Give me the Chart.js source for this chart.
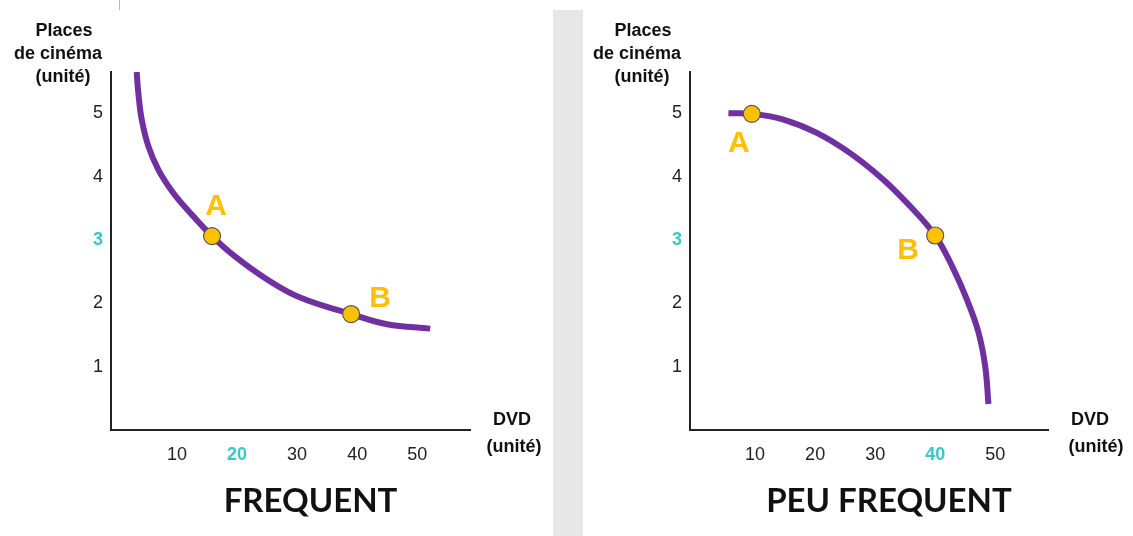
<!DOCTYPE html>
<html>
<head>
<meta charset="utf-8">
<script src="https://cdn.jsdelivr.net/npm/chart.js@4.4.0/dist/chart.umd.min.js"></script>
<style>
  body { margin: 0; background: #fff; }
  #wrap { position: relative; width: 1133px; height: 536px; overflow: hidden; }
  #sep { position: absolute; left: 553px; top: 10px; width: 30px; height: 526px; background: #e7e7e7; }
  #mark { position: absolute; left: 119px; top: 0; width: 1px; height: 10px; background: #aab4e6; }
  #c1 { position: absolute; left: 0; top: 0; }
  #c2 { position: absolute; left: 583px; top: 0; }
</style>
</head>
<body>
<div id="wrap">
  <div id="sep"></div>
  <div id="mark"></div>
  <canvas id="c1" width="553" height="536"></canvas>
  <canvas id="c2" width="550" height="536"></canvas>
</div>
<script>
// ticks shown on the axes
var dvdTicks = [10, 20, 30, 40, 50];
var placeTicks = [1, 2, 3, 4, 5];

// left chart: FREQUENT
var freqX = [3.28, 3.55, 4.12, 5.22, 6.88, 9.38, 12.17, 15.83, 19.38, 24.95, 30.5, 39.0, 44.95, 52.17];
var freqY = [5.65, 5.32, 4.90, 4.48, 4.11, 3.74, 3.43, 3.06, 2.76, 2.38, 2.09, 1.83, 1.67, 1.60];
var freqPointX = [15.83, 39.0];
var freqPointY = [3.06, 1.83];

// right chart: PEU FREQUENT
var rareX = [5.55, 9.45, 14.72, 20.28, 25.83, 31.38, 35.83, 40.0, 43.05, 45.28, 47.22, 48.33, 48.88];
var rareY = [5.00, 4.99, 4.90, 4.69, 4.37, 3.95, 3.53, 3.07, 2.54, 2.06, 1.54, 1.01, 0.41];
var rarePointX = [9.45, 40.0];
var rarePointY = [4.99, 3.07];

var pointNames = ['A', 'B'];

var purple = '#7030a0';
var yellow = '#ffc000';
var teal = '#36c8c8';
var tickFamily = 'Liberation Sans, Arial, sans-serif';

function toXY(xs, ys) {
    var out = [];
    for (var i = 0; i < xs.length; i++) out.push({ x: xs[i], y: ys[i] });
    return out;
}

// draws the axis titles, the big title under the chart and the A / B labels
var extraText = {
    id: 'extraText',
    afterDraw: function (chart, args, opts) {
        var ctx = chart.ctx;
        var area = chart.chartArea;
        ctx.save();
        ctx.fillStyle = '#111';
        ctx.font = 'bold 18px ' + tickFamily;
        ctx.textBaseline = 'middle';
        ctx.textAlign = 'center';
        ctx.fillText('Places', area.left - 47, area.top - 41);
        ctx.fillText('de cinéma', area.left - 53, area.top - 18);
        ctx.fillText('(unité)', area.left - 48, area.top + 5);
        ctx.fillText('DVD', area.right + opts.dvdShift[0], area.bottom - 10);
        ctx.fillText('(unité)', area.right + opts.dvdShift[1], area.bottom + 17);

        ctx.font = 'bold 33px Lato, Open Sans, sans-serif';
        ctx.fillText(opts.title, (area.left + area.right) / 2 + 20, 501);

        // point labels
        var meta = chart.getDatasetMeta(1);
        ctx.font = 'bold 30px ' + tickFamily;
        ctx.fillStyle = yellow;
        meta.data.forEach(function (pt, i) {
            var off = opts.offsets[i];
            ctx.fillText(pointNames[i], pt.x + off[0], pt.y + off[1]);
        });
        ctx.restore();
    }
};

function makeChart(id, curveX, curveY, ptX, ptY, xMin, hiX, title, offsets, padRight, yWidth, dvdShift) {
    var ctx = document.getElementById(id).getContext('2d');
    return new Chart(ctx, {
        type: 'scatter',
        data: {
            datasets: [
                {
                    data: toXY(curveX, curveY),
                    showLine: true,
                    borderColor: purple,
                    borderWidth: 6,
                    pointRadius: 0,
                    tension: 0.4,
                    borderCapStyle: 'butt',
                    order: 2
                },
                {
                    data: toXY(ptX, ptY),
                    showLine: false,
                    pointRadius: 8.5,
                    pointBackgroundColor: yellow,
                    pointBorderColor: '#555',
                    pointBorderWidth: 1.2,
                    order: 1
                }
            ]
        },
        options: {
            responsive: false,
            animation: false,
            events: [],
            layout: { padding: { left: 0, right: padRight, top: 72, bottom: 0 } },
            plugins: {
                legend: { display: false },
                tooltip: { enabled: false },
                extraText: { title: title, offsets: offsets, dvdShift: dvdShift }
            },
            scales: {
                x: {
                    type: 'linear',
                    min: xMin,
                    max: 58.8,
                    grid: { display: false, drawTicks: false },
                    border: { display: true, color: '#222', width: 2 },
                    afterBuildTicks: function (axis) {
                        axis.ticks = dvdTicks.map(function (v) { return { value: v }; });
                    },
                    afterFit: function (axis) { axis.height = 106; },
                    ticks: {
                        padding: 14,
                        font: function (c) {
                            var v = c.tick && c.tick.value;
                            return { family: tickFamily, size: 18, weight: v === hiX ? 'bold' : 'normal' };
                        },
                        color: function (c) { return c.tick && c.tick.value === hiX ? teal : '#222'; },
                        maxRotation: 0,
                        autoSkip: false
                    }
                },
                y: {
                    type: 'linear',
                    min: 0,
                    max: 5.65,
                    grid: { display: false, drawTicks: false },
                    border: { display: true, color: '#222', width: 2 },
                    afterBuildTicks: function (axis) {
                        axis.ticks = placeTicks.map(function (v) { return { value: v }; });
                    },
                    afterFit: function (axis) { axis.width = yWidth; },
                    ticks: {
                        padding: 8,
                        font: function (c) {
                            var v = c.tick && c.tick.value;
                            return { family: tickFamily, size: 18, weight: v === 3 ? 'bold' : 'normal' };
                        },
                        color: function (c) { return c.tick && c.tick.value === 3 ? teal : '#222'; }
                    }
                }
            }
        },
        plugins: [extraText]
    });
}

makeChart('c1', freqX, freqY, freqPointX, freqPointY, -1, 20, 'FREQUENT',
    [[4, -29], [29, -15]], 83, 111, [42, 44]);
makeChart('c2', rareX, rareY, rarePointX, rarePointY, -0.85, 40, 'PEU FREQUENT',
    [[-13, 30], [-27, 15]], 85, 107, [42, 48]);
</script>
</body>
</html>
